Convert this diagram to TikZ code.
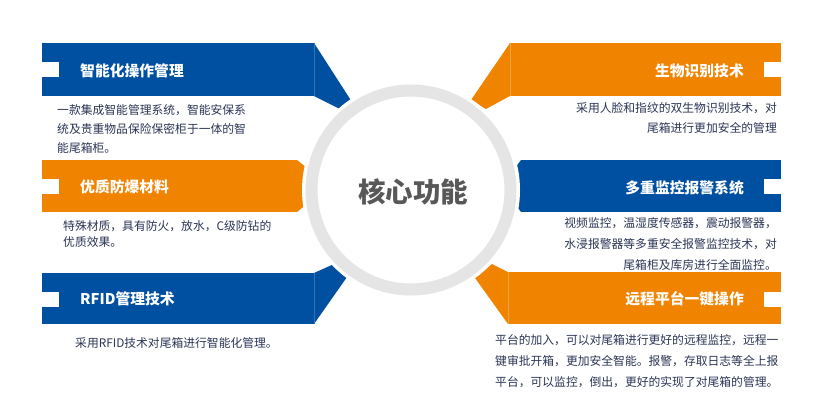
\documentclass[tikz,border=0pt]{standalone}
\usepackage{fontspec}
\newfontfamily\cjk{Noto Sans CJK SC}
\usetikzlibrary{positioning,calc}

\definecolor{barblue}{RGB}{0,80,162}
\definecolor{barorange}{RGB}{240,131,0}
\definecolor{ringgray}{RGB}{229,229,229}
\definecolor{deftext}{RGB}{42,52,84}
\definecolor{coretext}{RGB}{88,88,88}

\begin{document}
\begin{tikzpicture}[x=1pt,y=-1pt,
    bar/.style={rectangle,inner sep=0pt,outer sep=0pt,minimum height=53pt,anchor=north west},
    tab/.style={rectangle,fill=white,inner sep=0pt,outer sep=0pt,minimum width=17pt,minimum height=15pt},
    title/.style={inner sep=0pt,text=white,font=\cjk\bfseries\fontsize{14.8}{16}\selectfont},
    desc/.style={inner sep=0pt,text=deftext,font=\cjk\fontsize{11.8}{#1}\selectfont},
    seam/.style={line width=0.6pt}]
      \useasboundingbox (0,0) rectangle (819,408);

      % bars on the left
      \node[bar,fill=barblue,minimum width=272pt] (bar1) at (42,43) {};
      \node[bar,fill=barorange,minimum width=255pt,minimum height=52pt] (bar2) at (42,160) {};
      \node[bar,fill=barblue,minimum width=272pt,minimum height=51pt] (bar3) at (42,273) {};

      % bars on the right
      \node[bar,fill=barorange,minimum width=271pt] (bar4) at (510,43) {};
      \node[bar,fill=barblue,minimum width=260pt,minimum height=52pt] (bar5) at (521,160) {};
      \node[bar,fill=barorange,minimum width=273pt,minimum height=52pt] (bar6) at (508,272) {};

      % wedges towards the centre
      \fill[barblue] (bar1.north east) -- (352,102) -- (340,109) -- (bar1.south east) -- cycle;
      \fill[barorange] (bar2.north east) -- ++(10,8) -- ++(0,36) -- (bar2.south east) -- cycle;
      \fill[barblue] (bar3.north east) -- (334,264) -- (347,277) -- (bar3.south east) -- cycle;
      \fill[barorange] (bar4.north west) -- (471,100) -- (486,109) -- (bar4.south west) -- cycle;
      \fill[barblue] (bar5.north west) -- ++(-6,8) -- ++(0,36) -- (bar5.south west) -- cycle;
      \fill[barorange] (bar6.north west) -- (492,264) -- (475,278) -- (bar6.south west) -- cycle;

      \draw[seam,barblue!80!white] (bar1.north east) -- (bar1.south east);
      \draw[seam,barblue!80!white] (bar3.north east) -- (bar3.south east);
      \draw[seam,barorange!75!white] (bar4.north west) -- (bar4.south west);
      \draw[seam,barorange!75!white] (bar6.north west) -- (bar6.south west);

      % centre circle
      \node[circle,fill=white,inner sep=0pt,minimum size=218pt] (core) at (411,190) {};
      \draw[ringgray,line width=12pt] (core.center) circle[radius=99.5pt];
      \node[inner sep=0pt,text=coretext,font=\cjk\bfseries\fontsize{27.5}{30}\selectfont] (coretitle) at (413,192) {核心功能};

      % white tabs
      \node[tab,anchor=north west] (tab1) at (42,62) {};
      \node[tab,anchor=north west] (tab2) at (42,179) {};
      \node[tab,anchor=north west] (tab3) at (42,292) {};
      \node[tab,anchor=north east] (tab4) at (781,62) {};
      \node[tab,anchor=north east] (tab5) at (781,179) {};
      \node[tab,anchor=north east] (tab6) at (781,292) {};

      % titles
      \node[title,anchor=west] (t1) at (80,71) {智能化操作管理};
      \node[title,anchor=west] (t2) at (80,187) {优质防爆材料};
      \node[title,anchor=west] (t3) at (80,299) {RFID管理技术};
      \node[title,anchor=east] (t4) at (744,71) {生物识别技术};
      \node[title,anchor=east] (t5) at (744,188) {多重监控报警系统};
      \node[title,anchor=east] (t6) at (744,299) {远程平台一键操作};

      % descriptions
      \node[desc=18.7,anchor=north west,align=left] (d1) at (57,104.5)
        {一款集成智能管理系统，智能安保系\\统及贵重物品保险保密柜于一体的智\\能尾箱柜。};
      \node[desc=16,anchor=north west,align=left] (d2) at (63,220.5)
        {特殊材质，具有防火，放水，C级防钻的\\优质效果。};
      \node[desc=16,anchor=north west,align=left] (d3) at (75,337.5)
        {采用RFID技术对尾箱进行智能化管理。};
      \node[desc=20,anchor=north east,align=right] (d4) at (777,102.5)
        {采用人脸和指纹的双生物识别技术，对\\尾箱进行更加安全的管理};
      \node[desc=21,anchor=north east,align=right] (d5) at (777,217.8)
        {视频监控，温湿度传感器，震动报警器，\\水浸报警器等多重安全报警监控技术，对\\尾箱柜及库房进行全面监控。};
      \node[desc=21,anchor=north west,align=left] (d6) at (495,334.5)
        {平台的加入，可以对尾箱进行更好的远程监控，远程一\\键审批开箱，更加安全智能。报警，存取日志等全上报\\平台，可以监控，倒出，更好的实现了对尾箱的管理。};
\end{tikzpicture}
\end{document}
